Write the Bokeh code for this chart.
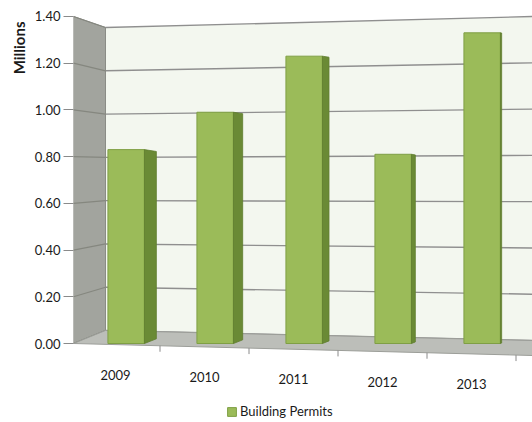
from bokeh.plotting import figure
from bokeh.models import (Range1d, FixedTicker, NumeralTickFormatter, ColumnDataSource,
                          Legend, LegendItem, Title)
from bokeh.core.properties import value
from bokeh.embed import file_html
from bokeh.resources import INLINE

# ---- data ----
years = ["2009", "2010", "2011", "2012", "2013"]
permits = [0.83, 0.99, 1.23, 0.81, 1.33]   # millions
y_ticks = [0.0, 0.2, 0.4, 0.6, 0.8, 1.0, 1.2, 1.4]
series_name = "Building Permits"
axis_title = "Millions"

# ---- geometry / style ----
FONT = "Lato"
W, H = 532, 422
LEFT = 73                      # frame left (px)
ZERO_PX = 343                  # pixel row of value 0 on the front axis
PXY = 233.6                    # px per million on the front axis
Y0, Y1 = -(H - ZERO_PX) / PXY, ZERO_PX / PXY
CAT0_PX, PXX = 115, 89.0       # pixel column of first category, px per category
X0 = (LEFT - CAT0_PX) / PXX
X1 = (W - CAT0_PX) / PXX
BACK_X = X0 + 32 / PXX         # back-left corner of the 3D box

def back_left(v):
    return (13 + v * 216.4) / PXY

def back_right(v):
    return (3 + v * 231.4) / PXY

def front_edge(x):
    return -(12 / PXY) * (x - X0) / (X1 - X0)

p = figure(width=W, height=H, output_backend="svg", toolbar_location=None,
           x_range=Range1d(X0, X1), y_range=Range1d(Y0, Y1),
           x_axis_location=None, min_border_left=LEFT, min_border_right=0,
           min_border_top=0, min_border_bottom=0)
p.outline_line_color = None
p.grid.visible = False
p.background_fill_color = "white"
p.border_fill_color = "white"

# back wall
p.patch([BACK_X, X1, X1, BACK_X],
        [back_left(0), back_right(0), back_right(1.4), back_left(1.4)],
        fill_color="#f3f7ef", line_color=None)
p.segment(x0=[BACK_X] * len(y_ticks), y0=[back_left(v) for v in y_ticks],
          x1=[X1] * len(y_ticks), y1=[back_right(v) for v in y_ticks],
          line_color="#8f8f8f", line_width=1.4)
# left wall
p.patch([X0, X0, BACK_X, BACK_X], [0, 1.4, back_left(1.4), back_left(0)],
        fill_color="#a2a49e", line_color="#8a8c86", line_width=1)
p.segment(x0=[X0] * len(y_ticks), y0=y_ticks,
          x1=[BACK_X] * len(y_ticks), y1=[back_left(v) for v in y_ticks],
          line_color="#85877f", line_width=1.2)
# floor
p.patch([X0, BACK_X, X1, X1],
        [0, back_left(0), back_right(0), front_edge(X1)],
        fill_color="#bcbeb9", line_color="#9c9e99", line_width=1)

# category boundary ticks under the floor front edge
bounds = [i - 0.5 for i in range(len(years) + 1)]
p.segment(x0=bounds, y0=[front_edge(b) for b in bounds],
          x1=bounds, y1=[front_edge(b) - 6 / PXY for b in bounds],
          line_color="#8a8a8a", line_width=1)

# bars (front faces)
xs = list(range(len(years)))
BAR_OFF = 0.12
BAR_W = 0.41
bar_x = [x + BAR_OFF for x in xs]
src = ColumnDataSource(dict(x=bar_x, top=permits, year=years))
bars = p.vbar(x="x", top="top", bottom=0, width=BAR_W, source=src,
              fill_color="#9bbb59", line_color="#7f9f45", line_width=1)

# bar side faces (perspective depth)
side_xs, side_ys = [], []
for i, (bx, v) in enumerate(zip(bar_x, permits)):
    w = 0.134 - 0.03 * i
    xr = bx + BAR_W / 2
    rise = 0.02 * w / 0.134
    drop = 0.008 * w / 0.134
    side_xs.append([xr, xr + w, xr + w, xr])
    side_ys.append([0, rise, v - drop, v])
p.patches(side_xs, side_ys, fill_color="#6a8a35", line_color="#5f7d2e", line_width=0.8)

# category labels along the sloped floor edge
lab_src = ColumnDataSource(dict(x=xs, y=[front_edge(x) - 30 / PXY for x in xs], t=years))
p.text(x="x", y="y", text="t", source=lab_src, text_align="center",
       text_baseline="middle", text_font=value(FONT),
       text_font_size="13px", text_color="#1a1a1a")

# y axis
ax = p.yaxis[0]
ax.ticker = FixedTicker(ticks=y_ticks)
ax.formatter = NumeralTickFormatter(format="0.00")
ax.axis_line_color = None
ax.major_tick_out = 10
ax.major_tick_in = 0
ax.major_tick_line_color = "#8a8a8a"
ax.minor_tick_line_color = None
ax.major_label_standoff = 3
ax.major_label_text_font = FONT
ax.major_label_text_font_size = "13px"
ax.major_label_text_color = "#1a1a1a"

# axis title near the top of the left side
p.add_layout(Title(text=axis_title, align="right", offset=21, standoff=8,
                   text_font=FONT, text_font_size="15px", text_font_style="bold",
                   text_color="#1a1a1a"), "left")

# legend at the bottom
legend = Legend(items=[LegendItem(label=series_name, renderers=[bars])],
                location=(226 - LEFT, 3), orientation="horizontal",
                padding=0, margin=0, spacing=0, glyph_width=11, glyph_height=11,
                label_standoff=3, label_height=14, label_text_font=FONT,
                label_text_font_size="13px", label_text_color="#1a1a1a",
                background_fill_alpha=0, border_line_color=None)
p.add_layout(legend)

open("out.html", "w").write(file_html(p, INLINE))
